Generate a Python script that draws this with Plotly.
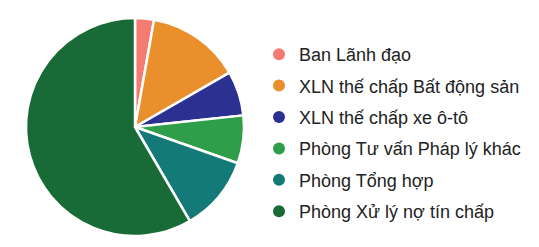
import plotly.graph_objects as go

labels = ["Ban Lãnh đạo", "XLN thế chấp Bất động sản", "XLN thế chấp xe ô-tô",
          "Phòng Tư vấn Pháp lý khác", "Phòng Tổng hợp", "Phòng Xử lý nợ tín chấp"]
values = [2.8, 13.9, 6.6, 7.1, 11.2, 58.4]
colors = ["#F37B72", "#E98F2B", "#2B3191", "#2E9E4A", "#137A78", "#186B37"]

W, H = 539, 247
OFF = 8  # page body margin
cx, cy, r = 135 - OFF, 127 - OFF, 109

fig = go.Figure()
fig.add_trace(go.Pie(
    labels=labels, values=values, sort=False, direction="clockwise", rotation=0,
    marker=dict(colors=colors, line=dict(color="white", width=2.5)),
    textinfo="none", hoverinfo="label+percent", showlegend=False,
    domain=dict(x=[(cx - r) / W, (cx + r) / W], y=[(H - cy - r) / H, (H - cy + r) / H]),
))
for i, (lab, col) in enumerate(zip(labels, colors)):
    fig.add_trace(go.Scatter(x=[None], y=[None], mode="markers", name=lab,
                             legendgroup=f"g{i}",
                             marker=dict(symbol="circle", size=13, color=col)))

fig.update_layout(
    width=W, height=H, margin=dict(l=0, r=0, t=0, b=0),
    paper_bgcolor="white", plot_bgcolor="white",
    xaxis=dict(visible=False), yaxis=dict(visible=False),
    font=dict(family="Liberation Sans, Arial, sans-serif", size=18, color="#222222"),
    legend=dict(x=251 / W, xanchor="left", y=1 - 28 / H, yanchor="top",
                bgcolor="rgba(0,0,0,0)", tracegroupgap=5, itemsizing="constant"),
)
fig.write_html("out.html")
